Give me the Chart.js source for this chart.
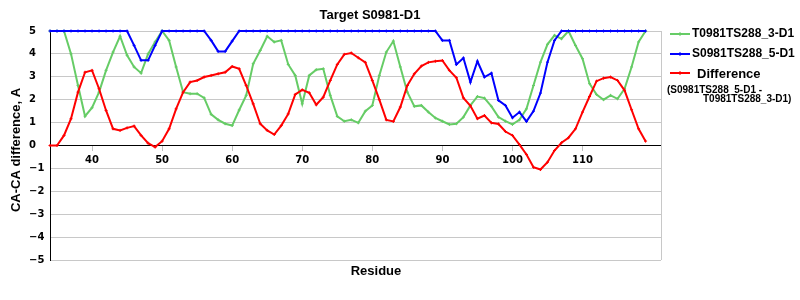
<!DOCTYPE html>
<html>
<head>
<meta charset="utf-8">
<title>Target S0981-D1</title>
<script src="https://cdn.jsdelivr.net/npm/chart.js@4/dist/chart.umd.min.js"></script>
<style>
  html, body { margin: 0; padding: 0; background: #fff; }
  #wrap { width: 800px; height: 300px; position: relative; }
</style>
</head>
<body>
<div id="wrap"><canvas id="chart" width="800" height="300"></canvas></div>
<script>
// residue numbers
var residues = [
    34, 35, 36, 37, 38, 39, 40, 41, 42, 43,
    44, 45, 46, 47, 48, 49, 50, 51, 52, 53,
    54, 55, 56, 57, 58, 59, 60, 61, 62, 63,
    64, 65, 66, 67, 68, 69, 70, 71, 72, 73,
    74, 75, 76, 77, 78, 79, 80, 81, 82, 83,
    84, 85, 86, 87, 88, 89, 90, 91, 92, 93,
    94, 95, 96, 97, 98, 99, 100, 101, 102, 103,
    104, 105, 106, 107, 108, 109, 110, 111, 112, 113,
    114, 115, 116, 117, 118, 119
];

// T0981TS288_3-D1
var model3 = [
    5, 5, 5, 4.0, 2.62, 1.28, 1.65, 2.33, 3.28, 4.08,
    4.77, 3.94, 3.43, 3.16, 4.0, 4.52, 5.0, 4.59, 3.43, 2.33,
    2.26, 2.26, 2.08, 1.36, 1.12, 0.95, 0.87, 1.55, 2.19, 3.57,
    4.15, 4.77, 4.52, 4.59, 3.54, 3.06, 1.82, 3.06, 3.31, 3.35,
    2.19, 1.27, 1.06, 1.12, 0.99, 1.5, 1.75, 3.06, 4.08, 4.56,
    3.43, 2.33, 1.71, 1.75, 1.46, 1.2, 1.06, 0.92, 0.95, 1.24,
    1.75, 2.14, 2.07, 1.71, 1.24, 1.06, 0.92, 1.12, 1.6, 2.62,
    3.64, 4.42, 4.81, 4.66, 5.0, 4.37, 3.79, 2.7, 2.23, 2.0,
    2.19, 2.04, 2.48, 3.43, 4.52, 5.0
];

// S0981TS288_5-D1
var model5 = [
    5, 5, 5, 5, 5, 5, 5, 5, 5, 5,
    5, 5, 4.37, 3.72, 3.72, 4.37, 5, 5, 5, 5,
    5, 5, 5, 4.59, 4.11, 4.11, 4.56, 5, 5, 5,
    5, 5, 5, 5, 5, 5, 5, 5, 5, 5,
    5, 5, 5, 5, 5, 5, 5, 5, 5, 5,
    5, 5, 5, 5, 5, 5, 4.59, 4.59, 3.54, 3.82,
    2.77, 3.68, 2.99, 3.16, 1.97, 1.75, 1.21, 1.46, 1.05, 1.5,
    2.29, 3.64, 4.59, 5, 5, 5, 5, 5, 5, 5,
    5, 5, 5, 5, 5, 5
];

// Difference (S0981TS288_5-D1 - T0981TS288_3-D1)
var difference = [
    0, 0, 0.44, 1.17, 2.33, 3.2, 3.28, 2.48, 1.53, 0.73,
    0.66, 0.77, 0.85, 0.44, 0.1, -0.07, 0.19, 0.73, 1.6, 2.33,
    2.77, 2.84, 2.99, 3.06, 3.13, 3.2, 3.45, 3.35, 2.62, 1.82,
    0.95, 0.66, 0.48, 0.87, 1.38, 2.23, 2.43, 2.3, 1.78, 2.11,
    2.84, 3.54, 3.98, 4.04, 3.83, 3.63, 2.84, 2.0, 1.12, 1.05,
    1.68, 2.62, 3.13, 3.47, 3.63, 3.68, 3.71, 3.28, 2.96, 2.08,
    1.73, 1.17, 1.31, 0.99, 0.94, 0.61, 0.44, 0.04, -0.39, -0.95,
    -1.05, -0.73, -0.22, 0.12, 0.34, 0.73, 1.46, 2.14, 2.81, 2.94,
    2.99, 2.84, 2.41, 1.56, 0.73, 0.19
];

var xTicks = [40, 50, 60, 70, 80, 90, 100, 110];
var seriesNames = ['T0981TS288_3-D1', 'S0981TS288_5-D1', 'Difference'];
var seriesColors = ['#66cc66', '#0000ff', '#ff0000'];

function toPoints(values) {
    var pts = [];
    for (var i = 0; i < residues.length; i++) {
        pts.push({ x: residues[i], y: values[i] });
    }
    return pts;
}

function makeSet(idx, values, order) {
    return {
        label: seriesNames[idx],
        data: toPoints(values),
        borderColor: seriesColors[idx],
        backgroundColor: seriesColors[idx],
        borderWidth: 2,
        pointStyle: 'cross',
        pointRadius: 1.5,
        pointBorderWidth: 1,
        tension: 0,
        clip: false,
        order: order
    };
}

var tickFont = { family: '"DejaVu Sans", sans-serif', size: 10, weight: 'bold' };

// titles, legend and right border drawn by hand
var decorPlugin = {
    id: 'decor',
    beforeDatasetsDraw: function(chart) {
        var ctx = chart.ctx, a = chart.chartArea;
        ctx.save();
        ctx.strokeStyle = '#c8c8c8';
        ctx.lineWidth = 1;
        ctx.beginPath();
        ctx.moveTo(Math.round(a.right) + 0.5, a.top);
        ctx.lineTo(Math.round(a.right) + 0.5, a.bottom);
        ctx.stroke();
        ctx.restore();
    },
    afterDraw: function(chart) {
        var ctx = chart.ctx;
        ctx.save();
        ctx.fillStyle = '#000';
        ctx.textBaseline = 'middle';

        // chart title
        ctx.font = 'bold 13px "Liberation Sans", Arial, sans-serif';
        ctx.textAlign = 'center';
        ctx.fillText('Target S0981-D1', 370, 15);

        // x axis title
        ctx.fillText('Residue', 376, 271);

        // y axis title
        ctx.save();
        ctx.translate(16, 150);
        ctx.rotate(-Math.PI / 2);
        ctx.fillText('CA-CA difference, A', 0, 0, 125);
        ctx.restore();

        // legend
        var rows = [34, 54, 73];
        for (var i = 0; i < 3; i++) {
            var y = rows[i];
            ctx.strokeStyle = seriesColors[i];
            ctx.lineWidth = 2;
            ctx.beginPath();
            ctx.moveTo(670, y);
            ctx.lineTo(690, y);
            ctx.stroke();
            ctx.lineWidth = 1;
            ctx.beginPath();
            ctx.moveTo(680, y - 2);
            ctx.lineTo(680, y + 2);
            ctx.stroke();
        }
        ctx.textAlign = 'left';
        ctx.font = 'bold 12px "Liberation Sans", Arial, sans-serif';
        ctx.fillText(seriesNames[0], 692, rows[0]);
        ctx.fillText(seriesNames[1], 692, rows[1]);
        ctx.font = 'bold 13px "Liberation Sans", Arial, sans-serif';
        ctx.fillText(seriesNames[2], 697, rows[2] + 1);
        ctx.font = 'bold 10px "Liberation Sans", Arial, sans-serif';
        ctx.fillText('(S0981TS288_5-D1 -', 667, 90);
        ctx.fillText('T0981TS288_3-D1)', 703, 99);
        ctx.restore();
    }
};

var config = {
    type: 'line',
    data: {
        datasets: [
            makeSet(0, model3, 3),
            makeSet(1, model5, 2),
            makeSet(2, difference, 1)
        ]
    },
    options: {
        responsive: false,
        animation: false,
        layout: {
            padding: { left: 29, right: 139, top: 31, bottom: 40 }
        },
        plugins: {
            legend: { display: false },
            title: { display: false },
            tooltip: { enabled: false }
        },
        scales: {
            x: {
                type: 'linear',
                min: 34,
                max: 121.2,
                position: { y: 0 },
                afterBuildTicks: function(scale) {
                    scale.ticks = xTicks.map(function(v) { return { value: v }; });
                },
                grid: {
                    drawOnChartArea: false,
                    drawTicks: true,
                    tickLength: 5,
                    color: '#c0c0c0'
                },
                border: { color: '#000', width: 1 },
                ticks: {
                    color: '#000',
                    font: tickFont,
                    padding: 4,
                    maxRotation: 0,
                    autoSkip: false
                }
            },
            y: {
                min: -5,
                max: 5,
                afterFit: function(scale) {
                    scale.width = 21;
                },
                grid: {
                    drawTicks: false,
                    color: function(c) {
                        return c.tick && c.tick.value === 0 ? '#000' : '#c8c8c8';
                    }
                },
                border: { color: '#000', width: 1 },
                ticks: {
                    stepSize: 1,
                    color: '#000',
                    font: tickFont,
                    crossAlign: 'far',
                    callback: function(v) {
                        return v < 0 ? '\u2212' + Math.abs(v) : String(v);
                    }
                }
            }
        }
    },
    plugins: [decorPlugin]
};

var ctx = document.getElementById('chart').getContext('2d');
var chart = new Chart(ctx, config);
</script>
</body>
</html>
